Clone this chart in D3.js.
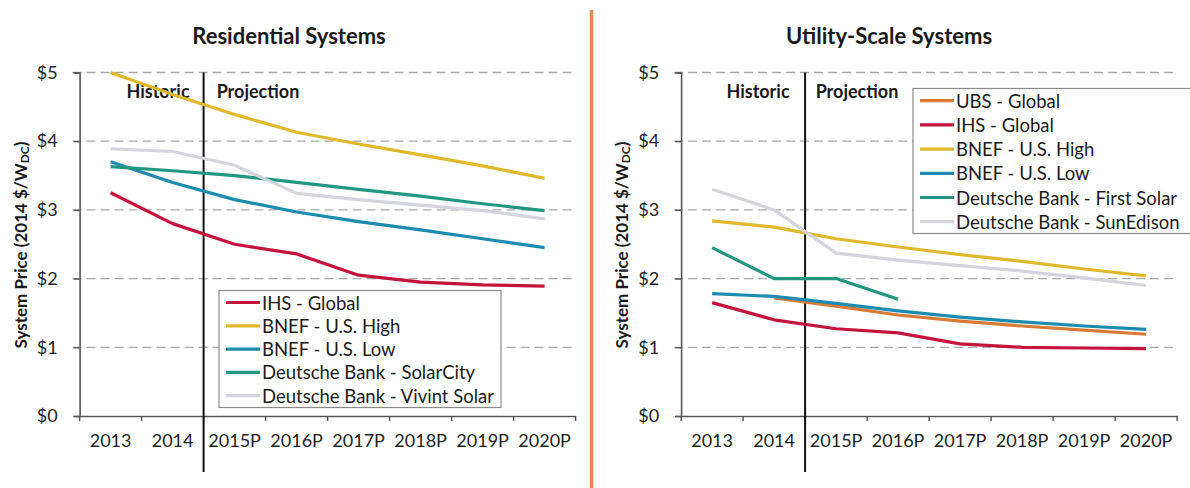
<!DOCTYPE html>
<html>
<head>
<meta charset="utf-8">
<script src="https://cdn.jsdelivr.net/npm/d3@7/dist/d3.min.js"></script>
<style>
  html, body { margin: 0; padding: 0; background: #fff; }
  svg { display: block; font-family: Lato, "Open Sans", sans-serif; }
</style>
</head>
<body>
<svg id="chart" width="1190" height="488"></svg>
<script>
// ---------- DATA ----------
const categories = ["2013", "2014", "2015P", "2016P", "2017P", "2018P", "2019P", "2020P"];
const yTickValues = [0, 1, 2, 3, 4, 5];

// Residential systems ($/W DC, 2014 dollars)
const resIHSGlobal      = [3.25, 2.80, 2.50, 2.36, 2.05, 1.95, 1.91, 1.89];
const resBNEFHigh       = [5.00, 4.68, 4.39, 4.13, 3.96, 3.80, 3.64, 3.46];
const resBNEFLow        = [3.70, 3.40, 3.15, 2.97, 2.83, 2.71, 2.58, 2.45];
const resDBSolarCity    = [3.63, 3.57, 3.50, 3.40, 3.30, 3.20, 3.09, 2.99];
const resDBVivint       = [3.89, 3.85, 3.65, 3.24, 3.15, 3.07, 2.99, 2.87];

// Utility-scale systems
const utilUBSGlobal     = [null, 1.72, 1.60, 1.47, 1.38, 1.31, 1.25, 1.19];
const utilIHSGlobal     = [1.65, 1.40, 1.27, 1.21, 1.05, 1.00, 0.99, 0.98];
const utilBNEFHigh      = [2.84, 2.75, 2.58, 2.46, 2.35, 2.25, 2.14, 2.04];
const utilBNEFLow       = [1.78, 1.74, 1.64, 1.53, 1.44, 1.37, 1.31, 1.26];
const utilDBFirstSolar  = [2.45, 2.00, 2.00, 1.70, null, null, null, null];
const utilDBSunEdison   = [3.30, 3.00, 2.37, 2.27, 2.19, 2.11, 2.01, 1.90];

const resNames  = ["IHS - Global", "BNEF - U.S. High", "BNEF - U.S. Low", "Deutsche Bank - SolarCity", "Deutsche Bank - Vivint Solar"];
const utilNames = ["UBS - Global", "IHS - Global", "BNEF - U.S. High", "BNEF - U.S. Low", "Deutsche Bank - First Solar", "Deutsche Bank - SunEdison"];

// ---------- STYLES ----------
const colors = {
  ubs: "#d97b35", ihs: "#c4143d", high: "#dfb82c", low: "#1b8cb0", db: "#21977f", dbGrey: "#d3d4dc"
};

const panels = [
  {
    title: "Residential Systems",
    titleX: 289,
    range: [79.6, 575.6],
    series: [
      { name: resNames[0], values: resIHSGlobal, color: colors.ihs },
      { name: resNames[1], values: resBNEFHigh, color: colors.high },
      { name: resNames[2], values: resBNEFLow, color: colors.low },
      { name: resNames[3], values: resDBSolarCity, color: colors.db },
      { name: resNames[4], values: resDBVivint, color: colors.dbGrey }
    ],
    legend: { x: 219, y: 290.5, w: 282, h: 117, first: 302.5, step: 23.3 },
    historicX: 158, projectionX: 258
  },
  {
    title: "Utility-Scale Systems",
    titleX: 889,
    range: [681.1, 1177.1],
    series: [
      { name: utilNames[0], values: utilUBSGlobal, color: colors.ubs },
      { name: utilNames[1], values: utilIHSGlobal, color: colors.ihs },
      { name: utilNames[2], values: utilBNEFHigh, color: colors.high },
      { name: utilNames[3], values: utilBNEFLow, color: colors.low },
      { name: utilNames[4], values: utilDBFirstSolar, color: colors.db },
      { name: utilNames[5], values: utilDBSunEdison, color: colors.dbGrey }
    ],
    legend: { x: 913, y: 88.5, w: 290, h: 145, first: 100.7, step: 24.2 },
    historicX: 758, projectionX: 857
  }
];

const svg = d3.select("#chart");
const yTop = 72.5, yBottom = 416;
const y = d3.scaleLinear().domain([0, 5]).range([yBottom, yTop]);

// separator
svg.append("line")
  .attr("x1", 591.5).attr("x2", 591.5).attr("y1", 10).attr("y2", 488)
  .attr("stroke", "#e5894e").attr("stroke-width", 3.5);

panels.forEach(p => {
  const g = svg.append("g");
  const x = d3.scaleBand().domain(categories).range(p.range);
  const x0 = p.range[0], x1 = p.range[1];

  // title
  g.append("text")
    .attr("x", p.titleX).attr("y", 35)
    .attr("text-anchor", "middle").attr("dominant-baseline", "central")
    .attr("font-size", 22).attr("font-weight", 700).attr("fill", "#1a1a1a")
    .text(p.title);

  // gridlines
  g.append("g").selectAll("line")
    .data(yTickValues.filter(d => d > 0))
    .join("line")
    .attr("x1", x0 - 7).attr("x2", x1 + 1)
    .attr("y1", d => y(d)).attr("y2", d => y(d))
    .attr("stroke", "#a8a8a8").attr("stroke-width", 1.3)
    .attr("stroke-dasharray", "9,5");

  // y axis
  const yAxis = g.append("g")
    .attr("transform", `translate(${x0},0)`)
    .call(d3.axisLeft(y).tickValues(yTickValues).tickSize(6).tickPadding(16).tickFormat(d => "$" + d));
  yAxis.select(".domain").attr("stroke", "#555").attr("stroke-width", 1.6);
  yAxis.selectAll(".tick line").attr("stroke", "#555").attr("stroke-width", 1.4);
  yAxis.selectAll(".tick text")
    .attr("font-size", 18).attr("fill", "#222")
    .attr("font-family", "Lato, sans-serif");

  // x axis (labels at band centres, ticks at band edges)
  const xAxis = g.append("g")
    .attr("transform", `translate(0,${yBottom})`)
    .call(d3.axisBottom(x).tickSize(0).tickPadding(18));
  xAxis.select(".domain").attr("stroke", "#555").attr("stroke-width", 1.6);
  xAxis.selectAll(".tick text")
    .attr("font-size", 18).attr("fill", "#222")
    .attr("font-family", "Lato, sans-serif");
  const edges = categories.map(c => x(c)).concat([x1]);
  g.append("g").selectAll("line")
    .data(edges).join("line")
    .attr("x1", d => d).attr("x2", d => d)
    .attr("y1", yBottom).attr("y2", yBottom + 5)
    .attr("stroke", "#555").attr("stroke-width", 1.4);

  // historic / projection divider
  const divX = x("2015P");
  g.append("line")
    .attr("x1", divX).attr("x2", divX)
    .attr("y1", yTop).attr("y2", 472)
    .attr("stroke", "#111").attr("stroke-width", 2);
  g.append("text").attr("x", p.historicX).attr("y", 91)
    .attr("text-anchor", "middle").attr("dominant-baseline", "central")
    .attr("font-size", 18).attr("font-weight", 700).attr("fill", "#1a1a1a")
    .text("Historic");
  g.append("text").attr("x", p.projectionX).attr("y", 91)
    .attr("text-anchor", "middle").attr("dominant-baseline", "central")
    .attr("font-size", 18).attr("font-weight", 700).attr("fill", "#1a1a1a")
    .text("Projection");

  // series lines
  const line = d3.line()
    .defined(d => d.v != null)
    .x(d => x(d.c) + x.bandwidth() / 2)
    .y(d => y(d.v));
  p.series.forEach(s => {
    const pts = categories.map((c, i) => ({ c, v: s.values[i] }));
    g.append("path")
      .datum(pts)
      .attr("d", line)
      .attr("fill", "none")
      .attr("stroke", s.color)
      .attr("stroke-width", 3.2)
      .attr("stroke-linejoin", "round");
  });

  // y axis title
  const yt = g.append("text")
    .attr("transform", `translate(${x0 - 60},245) rotate(-90)`)
    .attr("text-anchor", "middle").attr("dominant-baseline", "central")
    .attr("font-size", 17).attr("font-weight", 700).attr("fill", "#1a1a1a");
  yt.append("tspan").text("System Price (2014 $/W");
  yt.append("tspan").attr("font-size", 12).attr("dy", 4).text("DC");
  yt.append("tspan").attr("dy", -4).text(")");

  // legend
  const L = p.legend;
  const lg = g.append("g");
  lg.append("rect")
    .attr("x", L.x).attr("y", L.y).attr("width", L.w).attr("height", L.h)
    .attr("fill", "#fff").attr("stroke", "#8a8a8a").attr("stroke-width", 1.2);
  p.series.forEach((s, i) => {
    const yy = L.first + i * L.step;
    lg.append("line")
      .attr("x1", L.x + 7).attr("x2", L.x + 41)
      .attr("y1", yy).attr("y2", yy)
      .attr("stroke", s.color).attr("stroke-width", 3.2);
    lg.append("text")
      .attr("x", L.x + 43).attr("y", yy)
      .attr("dominant-baseline", "central")
      .attr("font-size", 18.5).attr("fill", "#1a1a1a")
      .text(s.name);
  });
});
</script>
</body>
</html>
